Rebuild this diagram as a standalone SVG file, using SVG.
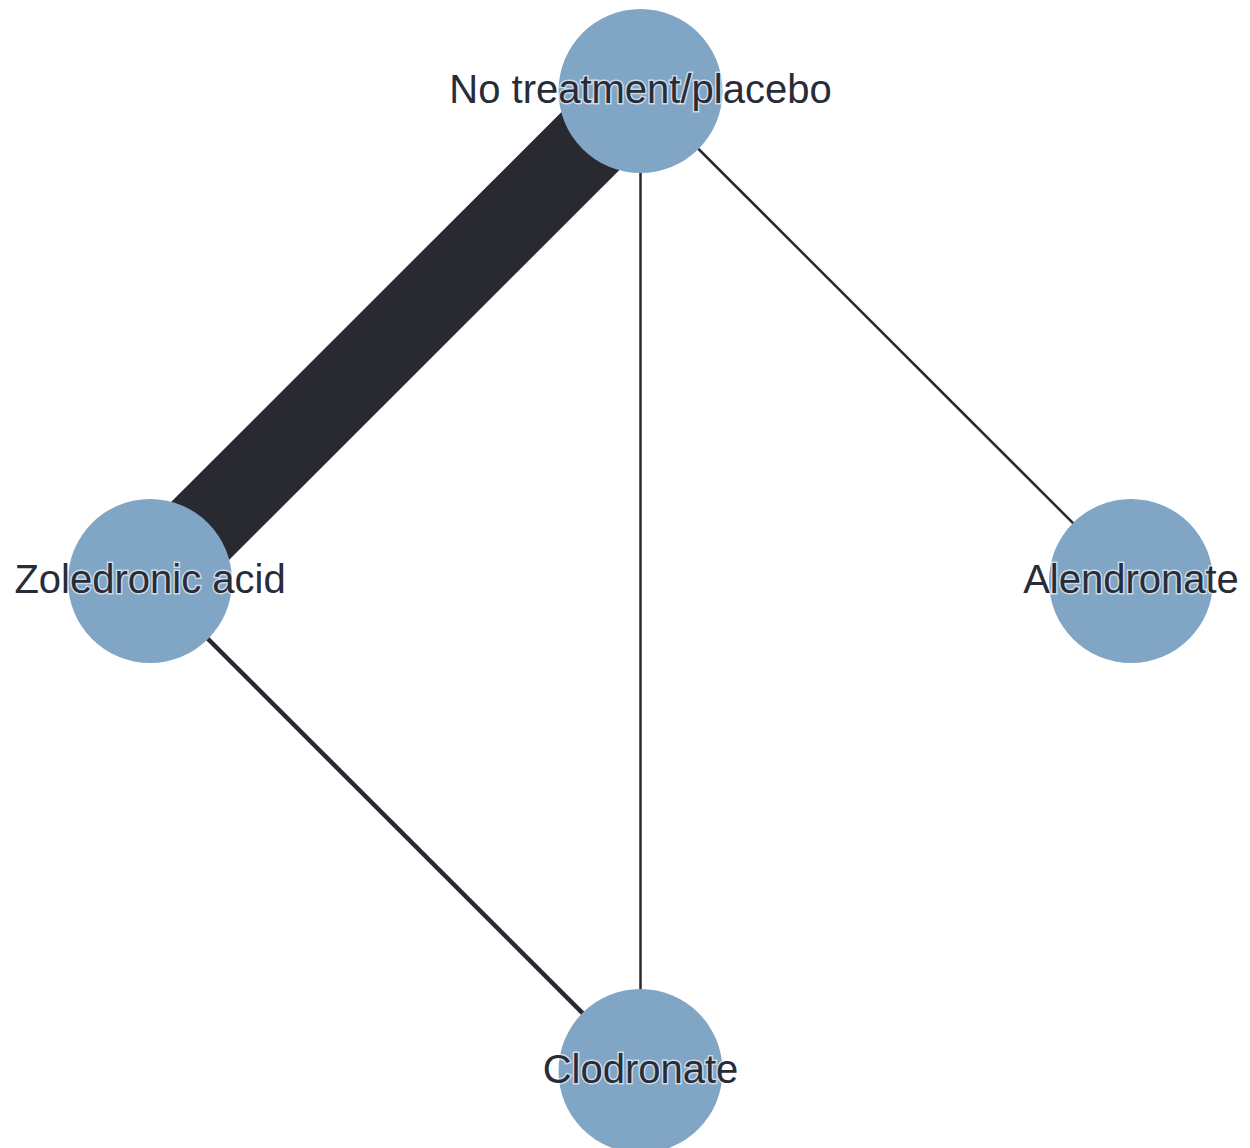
<svg xmlns="http://www.w3.org/2000/svg" width="1250" height="1148" viewBox="0 0 1250 1148">
<style>
.edge{stroke:#292932;fill:none}
.node circle{fill:#81a5c4}
.node text{font-family:"Liberation Sans",Arial,sans-serif;font-size:40px;fill:#282c38;text-anchor:middle;stroke:#ffffff;stroke-width:3px;stroke-opacity:0.6;paint-order:stroke}
</style>
<rect width="1250" height="1148" fill="#ffffff"/>
<g id="connectors">
<line class="edge" x1="640.5" y1="91" x2="150" y2="581" stroke-width="82"/>
<line class="edge" x1="640.5" y1="91" x2="640.5" y2="1071" stroke-width="2.5"/>
<line class="edge" x1="640.5" y1="91" x2="1131" y2="581" stroke-width="2.5"/>
<line class="edge" x1="150" y1="581" x2="640.5" y2="1071" stroke-width="4.5"/>
</g>
<g id="node-placebo" class="node"><circle cx="640.5" cy="91" r="82"/><text x="640.5" y="103">No treatment/placebo</text></g>
<g id="node-zoledronic" class="node"><circle cx="150" cy="581" r="82"/><text x="150" y="593">Zoledronic acid</text></g>
<g id="node-alendronate" class="node"><circle cx="1131" cy="581" r="82"/><text x="1131" y="593">Alendronate</text></g>
<g id="node-clodronate" class="node"><circle cx="640.5" cy="1071" r="82"/><text x="640.5" y="1083">Clodronate</text></g>
</svg>
